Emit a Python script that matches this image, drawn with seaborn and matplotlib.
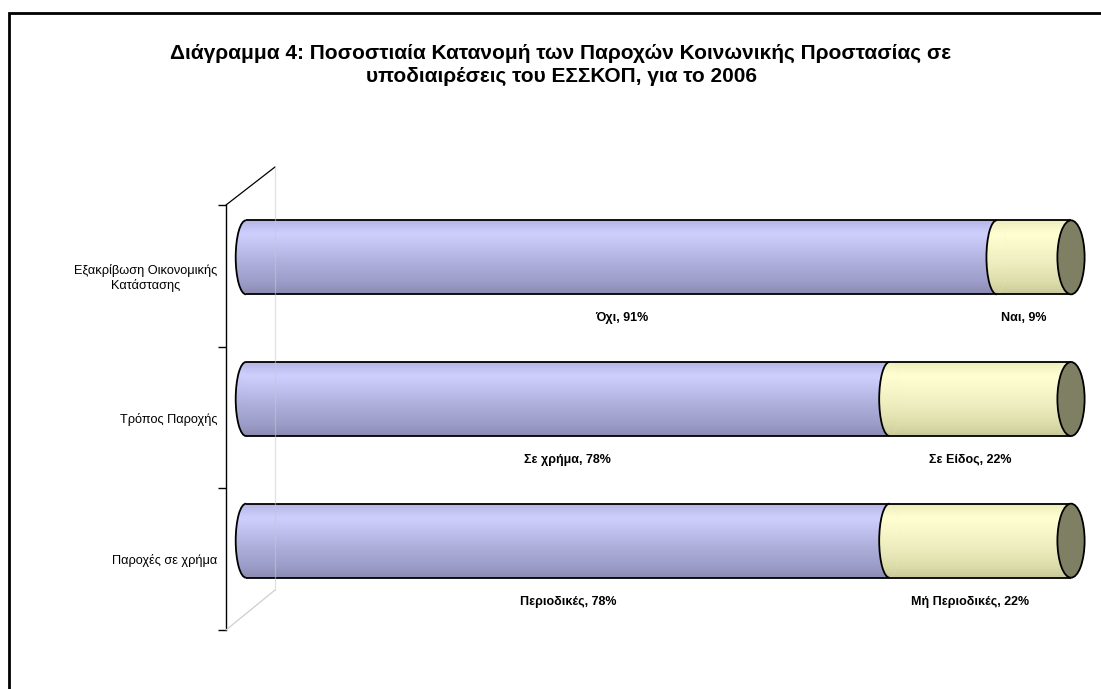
import numpy as np
import pandas as pd
import matplotlib
matplotlib.use("Agg")
import matplotlib.pyplot as plt
import seaborn as sns
from matplotlib.patches import Ellipse, Arc, Rectangle
from matplotlib.lines import Line2D
from matplotlib.colors import LinearSegmentedColormap

# ---------------- data ----------------
categories = ["Εξακρίβωση Οικονομικής\nΚατάστασης", "Τρόπος Παροχής", "Παροχές σε χρήμα"]
first_values = [91, 78, 78]
second_values = [9, 22, 22]
first_names = ["Όχι", "Σε χρήμα", "Περιοδικές"]
second_names = ["Ναι", "Σε Είδος", "Μή Περιοδικές"]
title = ("Διάγραμμα 4: Ποσοστιαία Κατανομή των Παροχών Κοινωνικής Προστασίας σε\n"
         "υποδιαιρέσεις του ΕΣΣΚΟΠ, για το 2006")

df = pd.DataFrame({
    "cat": categories,
    "first": first_values,
    "second": second_values,
})
df["total"] = df["first"] + df["second"]

# ---------------- style ----------------
sns.set_theme(style="white")
plt.rcParams["font.family"] = ["Liberation Sans", "DejaVu Sans"]
plt.rcParams["text.color"] = "black"
plt.rcParams["ytick.color"] = "black"
plt.rcParams["ytick.labelcolor"] = "black"

W, H = 1101, 689
fig = plt.figure(figsize=(W / 100, H / 100), dpi=100)
fig.patch.set_facecolor("white")


def fx(x):
    return x / W


def fy(y):
    return 1 - y / H


# outer border (extends past right/bottom edges)
fig.patches.append(Rectangle((fx(9), -0.2), 1.3, fy(13) + 0.2, transform=fig.transFigure,
                             fill=False, edgecolor="black", linewidth=2.0, zorder=0))

# title
fig.text(fx(561), fy(65), title, ha="center", va="center", fontsize=15,
         fontweight="bold", linespacing=1.32, color="black")

# axes geometry (pixel space)
ax_left, ax_right = 226, 1095
ax_top, ax_bot = 205, 630
x0_px, x100_px = 246, 1071
scale = (x100_px - x0_px) / 100.0
xlim = ((ax_left - x0_px) / scale, (ax_right - x0_px) / scale)
shift = 18.5  # vertical depth shift of bars

# front frame axes (spine, ticks, category labels)
ax_f = fig.add_axes([fx(ax_left), fy(ax_bot), fx(ax_right - ax_left), (ax_bot - ax_top) / H])
ax_f.set_facecolor("none")
ax_f.set_xlim(*xlim)
ax_f.set_ylim(2.5, -0.5)
for s in ["top", "right", "bottom"]:
    ax_f.spines[s].set_visible(False)
ax_f.spines["left"].set_color("black")
ax_f.spines["left"].set_linewidth(1.0)
ax_f.set_xticks([])
ax_f.set_yticks([-0.5, 0.5, 1.5, 2.5])
ax_f.set_yticklabels([])
ax_f.set_yticks([0, 1, 2], minor=True)
ax_f.set_yticklabels(categories, minor=True, fontsize=9.2, multialignment="center", color="black")
ax_f.tick_params(axis="y", which="major", left=True, length=6, width=1.0, color="black")
ax_f.tick_params(axis="y", which="minor", left=False, length=0, pad=6, labelcolor="black")

# 3D wall decoration lines
fig.add_artist(Line2D([fx(226), fx(275)], [fy(205), fy(167)], transform=fig.transFigure,
                      color="black", lw=0.9))
fig.add_artist(Line2D([fx(226), fx(275)], [fy(630), fy(590)], transform=fig.transFigure,
                      color="#cfcfcf", lw=0.9))

# bars axes (shifted up for depth)
ax_b = fig.add_axes([fx(ax_left), fy(ax_bot - shift), fx(ax_right - ax_left), (ax_bot - ax_top) / H])
ax_b.set_facecolor("none")

bar_h = 74 / ((ax_bot - ax_top) / 3.0)
blue = "#b2b2e2"
yellow = "#f2f2c4"

sns.barplot(data=df, x="total", y="cat", order=categories, color=yellow, width=bar_h,
            orient="h", ax=ax_b, saturation=1, edgecolor="none", linewidth=0)
n_y = len(ax_b.patches)
sns.barplot(data=df, x="first", y="cat", order=categories, color=blue, width=bar_h,
            orient="h", ax=ax_b, saturation=1, edgecolor="none", linewidth=0)
yellow_patches = ax_b.patches[:n_y]
blue_patches = ax_b.patches[n_y:]

ax_b.set_xlim(*xlim)
ax_b.set_ylim(2.5, -0.5)
ax_b.axis("off")

cmap_blue = LinearSegmentedColormap.from_list(
    "b", [(0, "#b4b4e6"), (0.18, "#d0d0ff"), (0.35, "#c2c2f0"), (0.6, "#adadda"),
          (0.85, "#9c9cc8"), (1, "#8a8ab2")])
cmap_yel = LinearSegmentedColormap.from_list(
    "y", [(0, "#ececbc"), (0.18, "#ffffd2"), (0.35, "#f8f8ca"), (0.6, "#ececbe"),
          (0.85, "#dcdcaa"), (1, "#c8c89a")])

grad = np.linspace(0, 1, 256).reshape(-1, 1)
stripes = grad + 0.03 * np.sin(np.arange(256) * 0.9).reshape(-1, 1)
stripes = np.clip(stripes, 0, 1)


def grad_fill(patch, cmap, yc, z):
    verts = patch.get_path().transformed(patch.get_patch_transform()).vertices
    xa, xb = verts[:, 0].min(), verts[:, 0].max()
    im = ax_b.imshow(stripes, cmap=cmap, aspect="auto", interpolation="bilinear",
                     extent=(xa, xb, yc + bar_h / 2, yc - bar_h / 2), zorder=z)
    im.set_clip_path(patch)
    return im


cap_w = 2.5
end_w = 3.3
for i, (yp, bp) in enumerate(zip(yellow_patches, blue_patches)):
    yc = bp.get_y() + bp.get_height() / 2
    v = bp.get_width()
    tot = yp.get_width()
    yp.set_zorder(2)
    grad_fill(yp, cmap_yel, yc, 2.1)
    # left end cap
    lcap = Ellipse((0, yc), cap_w, bar_h, facecolor=blue, edgecolor="none", zorder=2.15)
    ax_b.add_patch(lcap)
    grad_fill(lcap, cmap_blue, yc, 2.16)
    bp.set_zorder(2.2)
    grad_fill(bp, cmap_blue, yc, 2.3)
    # junction
    jcap = Ellipse((v, yc), cap_w, bar_h, facecolor=yellow, edgecolor="none", zorder=2.4)
    ax_b.add_patch(jcap)
    grad_fill(jcap, cmap_yel, yc, 2.45)
    # outlines
    ax_b.add_patch(Arc((0, yc), cap_w, bar_h, theta1=90, theta2=270, color="black", lw=1.3, zorder=5))
    ax_b.add_patch(Arc((v, yc), cap_w, bar_h, theta1=90, theta2=270, color="black", lw=1.3, zorder=5))
    ax_b.hlines([yc - bar_h / 2, yc + bar_h / 2], 0, tot, colors="black", lw=1.3, zorder=5)
    ax_b.add_patch(Ellipse((tot, yc), end_w, bar_h, facecolor="#7f7f63", edgecolor="black",
                           lw=1.3, zorder=6))
    # data labels
    ax_b.text(v / 2, yc + 0.43, f"{first_names[i]}, {first_values[i]}%", ha="center",
              va="center", fontsize=9, fontweight="bold", color="black")
    ax_b.text(v + (tot - v) / 2 - 1.2, yc + 0.43, f"{second_names[i]}, {second_values[i]}%",
              ha="center", va="center", fontsize=9, fontweight="bold", color="black")

# back-wall edge line, faintly visible through the bars as in the original
fig.add_artist(Line2D([fx(275), fx(275)], [fy(167), fy(590)], transform=fig.transFigure,
                      color="#c8c8c8", lw=0.9, alpha=0.55, zorder=10))

fig.savefig("out.png", dpi=100)
